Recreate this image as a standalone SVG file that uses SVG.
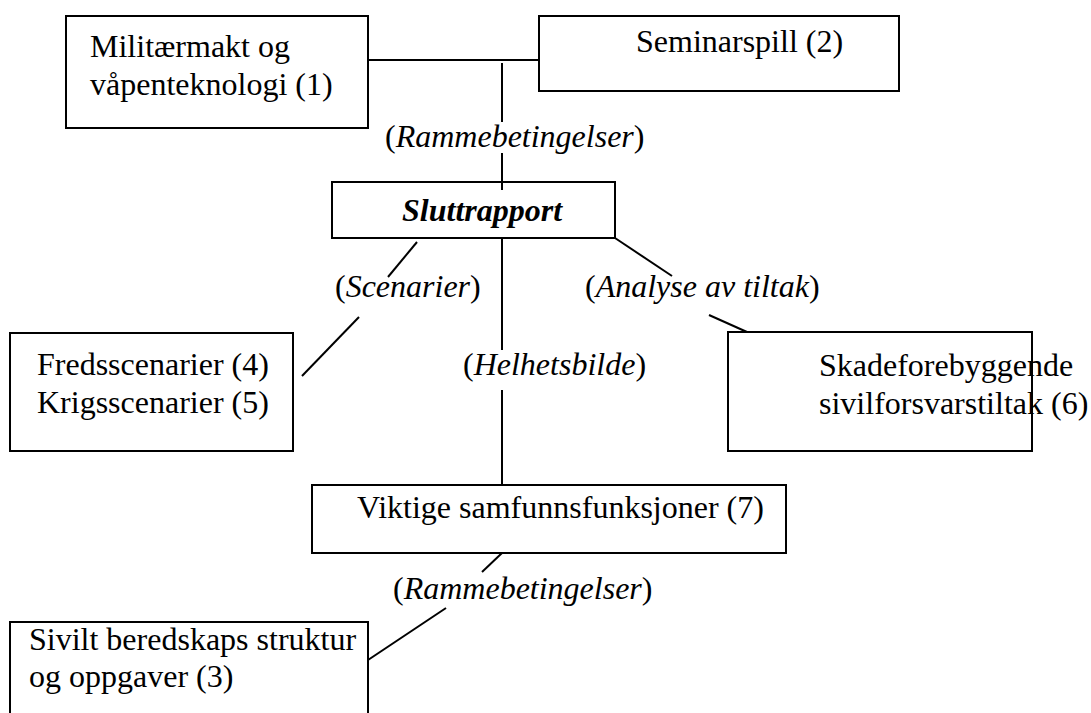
<svg xmlns="http://www.w3.org/2000/svg" width="1091" height="713" viewBox="0 0 1091 713">
<style>
.box{fill:#fff;stroke:#000;stroke-width:2}
.ln{stroke:#000;stroke-width:2;fill:none}
text{font-family:"Liberation Serif","Times New Roman",serif;font-size:32px;fill:#000}
.it{font-style:italic}
.bi{font-style:italic;font-weight:bold}
</style>
<rect width="1091" height="713" fill="#fff"/>
<g id="connectors">
<line class="ln" x1="368" y1="60" x2="539" y2="60"/>
<line class="ln" x1="502" y1="63" x2="502" y2="122"/>
<line class="ln" x1="502" y1="153" x2="502" y2="190"/>
<line class="ln" x1="502" y1="238" x2="502" y2="350"/>
<line class="ln" x1="502" y1="390" x2="502" y2="485"/>
<line class="ln" x1="417" y1="242" x2="388" y2="277"/>
<line class="ln" x1="359" y1="317" x2="302" y2="376"/>
<line class="ln" x1="615" y1="238" x2="672" y2="276"/>
<line class="ln" x1="709" y1="315" x2="747" y2="332"/>
<line class="ln" x1="502" y1="553" x2="482" y2="572"/>
<line class="ln" x1="446" y1="608" x2="368" y2="660"/>
</g>
<g id="labels">
<text x="385" y="147">(<tspan class="it">Rammebetingelser</tspan>)</text>
<text x="335" y="297">(<tspan class="it">Scenarier</tspan>)</text>
<text x="585" y="297">(<tspan class="it">Analyse av tiltak</tspan>)</text>
<text x="463" y="375">(<tspan class="it">Helhetsbilde</tspan>)</text>
<text x="393" y="599">(<tspan class="it">Rammebetingelser</tspan>)</text>
</g>
<g id="n1">
<rect class="box" x="66" y="16" width="302" height="112"/>
<text x="90" y="57">Militærmakt og</text>
<text x="90" y="95">våpenteknologi (1)</text>
</g>
<g id="n2">
<rect class="box" x="539" y="16" width="360" height="75"/>
<text x="636" y="52">Seminarspill (2)</text>
</g>
<g id="sluttrapport">
<rect class="box" x="332" y="182" width="283" height="56"/>
<text class="bi" x="402" y="221">Sluttrapport</text>
</g>
<g id="n45">
<rect class="box" x="10" y="333" width="283" height="118"/>
<text x="37" y="375">Fredsscenarier (4)</text>
<text x="37" y="413">Krigsscenarier (5)</text>
</g>
<g id="n6">
<rect class="box" x="728" y="332" width="304" height="119"/>
<text x="819" y="376">Skadeforebyggende</text>
<text x="819" y="414">sivilforsvarstiltak (6)</text>
</g>
<g id="n7">
<rect class="box" x="312" y="485" width="474" height="68"/>
<text x="357" y="518">Viktige samfunnsfunksjoner (7)</text>
</g>
<g id="n3">
<rect class="box" x="10" y="622" width="358" height="100"/>
<text x="29" y="650">Sivilt beredskaps struktur</text>
<text x="29" y="687">og oppgaver (3)</text>
</g>
<line class="ln" x1="502" y1="182" x2="502" y2="190"/>
</svg>
